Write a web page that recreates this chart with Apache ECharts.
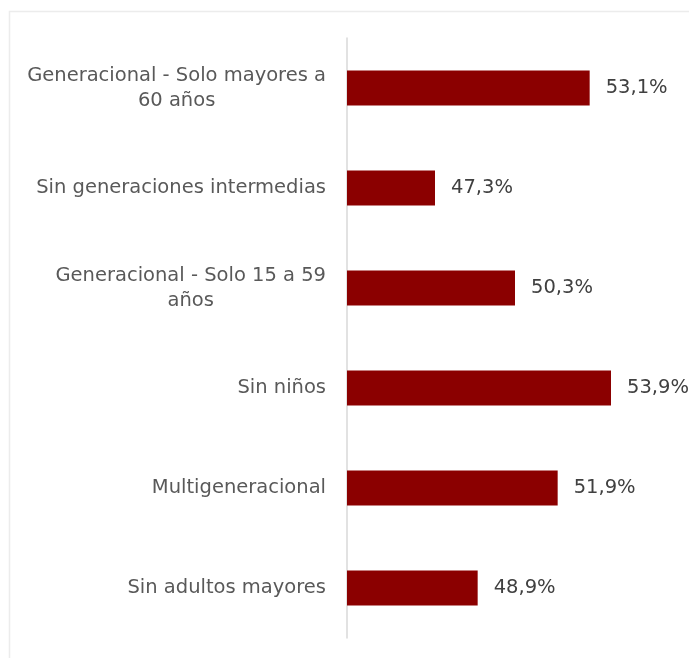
<!DOCTYPE html>
<html>
<head>
<meta charset="utf-8">
<script src="https://cdn.jsdelivr.net/npm/echarts@6/dist/echarts.min.js"></script>
<style>
  html, body { margin: 0; padding: 0; background: #fff; }
  #chart { width: 689px; height: 658px; }
</style>
</head>
<body>
<div id="chart"></div>
<script>
// Household types (top to bottom) and share values in percent
const categories = [
  'Generacional - Solo mayores a\n60 años',
  'Sin generaciones intermedias',
  'Generacional - Solo 15 a 59\naños',
  'Sin niños',
  'Multigeneracional',
  'Sin adultos mayores'
];
const values = [53.1, 47.3, 50.3, 53.9, 51.9, 48.9];

const FONT = 'DejaVu Sans';

const chart = echarts.init(document.getElementById('chart'), null, { renderer: 'canvas' });

chart.setOption({
  animation: false,
  backgroundColor: '#ffffff',
  graphic: [{
    type: 'rect',
    left: 7, top: 9,
    shape: { width: 700, height: 660 },
    style: { fill: 'none', stroke: '#ececec', lineWidth: 1.5 },
    silent: true
  }],
  grid: { left: 347, right: 22, top: 38, bottom: 20, containLabel: false },
  xAxis: {
    type: 'value', min: 44, max: 56,
    show: false
  },
  yAxis: {
    type: 'category',
    data: categories,
    inverse: true,
    axisTick: { show: false },
    axisLine: { show: true, lineStyle: { color: '#d9d9d9', width: 1.5 } },
    axisLabel: {
      margin: 21,
      formatter: function (v) {
        return v.split('\n').map(function (s) { return '{c|' + s + '}'; }).join('\n');
      },
      rich: {
        c: { align: 'center', fontFamily: FONT, fontSize: 19.5, color: '#595959', lineHeight: 25 }
      }
    },
    splitLine: { show: false }
  },
  series: [{
    type: 'bar',
    data: values,
    barWidth: 35,
    itemStyle: { color: '#8b0000' },
    label: {
      show: true,
      position: 'right',
      distance: 16,
      fontFamily: FONT,
      fontSize: 19.5,
      color: '#404040',
      formatter: function (p) { return p.value.toFixed(1).replace('.', ',') + '%'; }
    }
  }]
});
</script>
</body>
</html>
